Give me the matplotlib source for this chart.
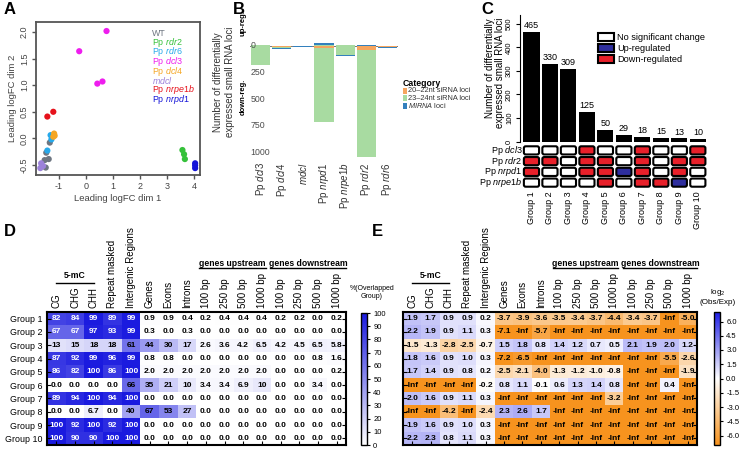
import numpy as np
import matplotlib
matplotlib.use("Agg")
import matplotlib.pyplot as plt
from matplotlib.colors import LinearSegmentedColormap, Normalize
from matplotlib.cm import ScalarMappable
from matplotlib.patches import FancyBboxPatch, Rectangle

plt.rcParams.update({
    "font.family": ["Liberation Sans", "DejaVu Sans"],
    "mathtext.fontset": "custom",
    "mathtext.rm": "Liberation Sans",
    "mathtext.it": "Liberation Sans:italic",
    "mathtext.bf": "Liberation Sans:bold",
    "axes.unicode_minus": False,
})

# ── data ──────────────────────────────────────────────────────────────────────
# A: MDS plot
genotypes = ["WT", "Pp $\\mathit{rdr2}$", "Pp $\\mathit{rdr6}$", "Pp $\\mathit{dcl3}$",
             "Pp $\\mathit{dcl4}$", "$\\mathit{mdcl}$", "Pp $\\mathit{nrpe1b}$",
             "Pp $\\mathit{nrpd1}$"]
geno_colors = ["#6E7681", "#35C13A", "#27A9EA", "#EE1DEE", "#F5A623", "#9C82DA",
               "#E6111B", "#1414D8"]
mds_dim1 = [[-1.34, -1.47, -1.38, -1.53, -1.49],
            [3.57, 3.63, 3.66],
            [-1.31, -1.28, -1.43],
            [0.76, -0.25, 0.42, 0.61],
            [-1.18, -1.16, -1.21],
            [-1.66, -1.69, -1.59],
            [-1.43, -1.21],
            [4.04, 4.04, 4.04]]
mds_dim2 = [[-0.08, -0.27, -0.39, -0.41, -0.55],
            [-0.22, -0.30, -0.39],
            [0.06, -0.02, -0.23],
            [2.02, 1.64, 1.03, 1.07],
            [0.09, 0.05, 0.03],
            [-0.47, -0.56, -0.52],
            [0.41, 0.50],
            [-0.47, -0.51, -0.56]]

# B: differentially expressed loci per mutant
b_mutants = ["Pp $\\mathit{dcl3}$", "Pp $\\mathit{dcl4}$", "$\\mathit{mdcl}$",
             "Pp $\\mathit{nrpd1}$", "Pp $\\mathit{nrpe1b}$", "Pp $\\mathit{rdr2}$",
             "Pp $\\mathit{rdr6}$"]
b_down_2022 = [4, 6, 0, 20, 3, 38, 8]
b_down_2324 = [172, 15, 0, 695, 80, 1005, 5]
b_down_mirna = [3, 3, 8, 4, 10, 3, 3]
b_up_2022 = [0, 0, 0, 3, 0, 0, 0]
b_up_2324 = [5, 0, 0, 10, 5, 4, 0]
b_up_mirna = [2, 0, 0, 12, 0, 2, 0]
b_categories = ["20\u201322nt siRNA loci", "23\u201324nt siRNA loci", "$\\mathit{MIRNA}$ loci"]
b_colors = ["#F6A55E", "#A8DBA1", "#3380BD"]
b_ticks = [0, 250, 500, 750, 1000]

# C: groups of loci
c_groups = ["Group 1", "Group 2", "Group 3", "Group 4", "Group 5",
            "Group 6", "Group 7", "Group 8", "Group 9", "Group 10"]
c_counts = [465, 330, 309, 125, 50, 29, 18, 15, 13, 10]
c_mutants = ["Pp $\\mathit{dcl3}$", "Pp $\\mathit{rdr2}$", "Pp $\\mathit{nrpd1}$",
             "Pp $\\mathit{nrpe1b}$"]
# n = no change, u = up, d = down
c_status = ["nnndnndnnd",
            "ddnddndndd",
            "dnnddudndn",
            "nnnndnddun"]
c_status_colors = {"n": "white", "u": "#2E2E9E", "d": "#E8202A"}
c_legend = ["No significant change", "Up-regulated", "Down-regulated"]

# D / E: genomic features
feat_labels = ["CG", "CHG", "CHH", "Repeat masked", "Intergenic Regions", "Genes",
               "Exons", "Introns", "100 bp", "250 bp", "500 bp", "1000 bp",
               "100 bp", "250 bp", "500 bp", "1000 bp"]
d_values = [
    [82, 84, 99, 89, 99, 0.9, 0.9, 0.4, 0.2, 0.4, 0.4, 0.4, 0.2, 0.2, 0.0, 0.2],
    [67, 67, 97, 93, 99, 0.3, 0.0, 0.3, 0.0, 0.0, 0.0, 0.0, 0.0, 0.0, 0.0, 0.0],
    [13, 15, 18, 18, 61, 44, 30, 17, 2.6, 3.6, 4.2, 6.5, 4.2, 4.5, 6.5, 5.8],
    [87, 92, 99, 96, 99, 0.8, 0.8, 0.0, 0.0, 0.0, 0.0, 0.0, 0.0, 0.0, 0.8, 1.6],
    [86, 82, 100, 86, 100, 2.0, 2.0, 2.0, 2.0, 2.0, 2.0, 2.0, 0.0, 0.0, 0.0, 0.2],
    [0.0, 0.0, 0.0, 0.0, 66, 35, 21, 10, 3.4, 3.4, 6.9, 10, 0.0, 0.0, 3.4, 0.0],
    [89, 94, 100, 94, 100, 0.0, 0.0, 0.0, 0.0, 0.0, 0.0, 0.0, 0.0, 0.0, 0.0, 0.0],
    [0.0, 0.0, 6.7, 0.0, 40, 67, 53, 27, 0.0, 0.0, 0.0, 0.0, 0.0, 0.0, 0.0, 0.0],
    [100, 92, 100, 92, 100, 0.0, 0.0, 0.0, 0.0, 0.0, 0.0, 0.0, 0.0, 0.0, 0.0, 0.0],
    [100, 90, 90, 100, 100, 0.0, 0.0, 0.0, 0.0, 0.0, 0.0, 0.0, 0.0, 0.0, 0.0, 0.0],
]
NI = -np.inf
e_values = [
    [1.9, 1.7, 0.9, 0.9, 0.2, -3.7, -3.9, -3.6, -3.5, -3.4, -3.7, -4.4, -3.4, -3.7, NI, -5.0],
    [2.2, 1.9, 0.9, 1.1, 0.3, -7.1, NI, -5.7, NI, NI, NI, NI, NI, NI, NI, NI],
    [-1.5, -1.3, -2.8, -2.5, -0.7, 1.5, 1.8, 0.8, 1.4, 1.2, 0.7, 0.5, 2.1, 1.9, 2.0, 1.2],
    [1.8, 1.6, 0.9, 1.0, 0.3, -7.2, -6.5, NI, NI, NI, NI, NI, NI, NI, -5.5, -2.6],
    [1.7, 1.4, 0.9, 0.8, 0.2, -2.5, -2.1, -4.0, -1.3, -1.2, -1.0, -0.8, NI, NI, NI, -1.9],
    [NI, NI, NI, NI, -0.2, 0.8, 1.1, -0.1, 0.6, 1.3, 1.4, 0.8, NI, NI, 0.4, NI],
    [2.0, 1.6, 0.9, 1.1, 0.3, NI, NI, NI, NI, NI, NI, -3.2, NI, NI, NI, NI],
    [NI, NI, -4.2, NI, -2.4, 2.3, 2.6, 1.7, NI, NI, NI, NI, NI, NI, NI, NI],
    [1.9, 1.6, 0.9, 1.0, 0.3, NI, NI, NI, NI, NI, NI, NI, NI, NI, NI, NI],
    [2.2, 2.3, 0.8, 1.1, 0.3, NI, NI, NI, NI, NI, NI, NI, NI, NI, NI, NI],
]

# ── layout helpers (pixel positions on a 742x450 canvas) ─────────────────────
W, H = 742, 450
fig = plt.figure(figsize=(W / 100, H / 100), dpi=100)


def px_axes(l, t, r, b, **kw):
    return fig.add_axes([l / W, 1 - b / H, (r - l) / W, (b - t) / H], **kw)


ov = px_axes(0, 0, W, H, zorder=10)
ov.set_xlim(0, W)
ov.set_ylim(H, 0)
ov.axis("off")

for letter, x, y in [("A", 4, 10), ("B", 233, 9), ("C", 481, 10),
                     ("D", 4, 232), ("E", 372, 232)]:
    ov.text(x, y, letter, fontsize=12, fontweight="bold", va="center", ha="left")

# ── A ─────────────────────────────────────────────────────────────────────────
axA = px_axes(36, 22, 200, 175)
for xs, ys, col in zip(mds_dim1, mds_dim2, geno_colors):
    axA.scatter(xs, ys, s=20, color=col, edgecolors="none", zorder=3)
axA.set_xlim(-1.85, 4.22)
axA.set_ylim(-0.69, 2.19)
axA.set_xticks([-1, 0, 1, 2, 3, 4])
axA.set_yticks([-0.5, 0.0, 0.5, 1.0, 1.5, 2.0])
axA.set_yticklabels(["-0.5", "0.0", "0.5", "1.0", "1.5", "2.0"], rotation=90, va="center")
for sp in axA.spines.values():
    sp.set_color("#555555")
    sp.set_linewidth(1.3)
axA.tick_params(colors="#555555", labelcolor="#444444", labelsize=6.5, length=3, width=1, pad=2)
axA.set_xlabel("Leading logFC dim 1", fontsize=6.8, color="#444444", labelpad=2)
axA.set_ylabel("Leading logFC dim 2", fontsize=6.8, color="#444444", labelpad=2)
for i, (lab, col) in enumerate(zip(genotypes, geno_colors)):
    ov.text(152, 33 + i * 9.5, lab, color=col, fontsize=6.4, va="center", ha="left")

# ── B ─────────────────────────────────────────────────────────────────────────
axB = px_axes(250, 36, 398, 160)
xb = np.arange(len(b_mutants))
down_stack = [b_down_2022, b_down_2324, b_down_mirna]
up_stack = [b_up_2022, b_up_2324, b_up_mirna]
base_d = np.zeros(len(xb))
base_u = np.zeros(len(xb))
for vals_d, vals_u, col in zip(down_stack, up_stack, b_colors):
    vd = np.array(vals_d, float)
    vu = np.array(vals_u, float)
    axB.bar(xb, vd, bottom=base_d, width=0.9, color=col, linewidth=0)
    axB.bar(xb, -vu, bottom=-base_u, width=0.9, color=col, linewidth=0)
    base_d += vd
    base_u += vu
axB.axhline(0, color="#777777", lw=0.7, zorder=0)
axB.set_xlim(-0.5, len(xb) - 0.5)
axB.set_ylim(1075, -94)
axB.axis("off")
for t in b_ticks:
    axB.text(0.003, t, str(t), transform=axB.get_yaxis_transform(), ha="left",
             va="center", fontsize=6.3, color="#4D4D4D", zorder=5)
for i, lab in enumerate(b_mutants):
    axB.text(i, -0.02, lab, transform=axB.get_xaxis_transform(),
             rotation=90, ha="center", va="top", fontsize=7, color="#333333")
ov.text(243, 23, "up-reg.", rotation=90, fontweight="bold", fontsize=5.5,
        ha="center", va="center")
ov.text(243, 97, "down-reg.", rotation=90, fontweight="bold", fontsize=5.5,
        ha="center", va="center")
ov.text(224, 82, "Number of differentially\nexpressed small RNA loci", rotation=90,
        fontsize=7, ha="center", va="center", color="#333333")
ov.text(403, 83, "Category", fontweight="bold", fontsize=6.3, ha="left", va="center")
for i, (lab, col) in enumerate(zip(b_categories, b_colors)):
    yc = 90.5 + i * 7.6
    ov.add_patch(Rectangle((402.5, yc - 3), 4.5, 6, color=col, lw=0))
    ov.text(408, yc, lab, fontsize=5.3, ha="left", va="center", color="#333333")

# ── C ─────────────────────────────────────────────────────────────────────────
axC = px_axes(520, 15, 708, 141.5)
xc = np.arange(len(c_groups))
axC.bar(xc, c_counts, width=0.87, color="black")
for x, v in zip(xc, c_counts):
    axC.text(x, v + 8, str(v), ha="center", va="bottom", fontsize=6.5)
axC.set_xlim(-0.62, 9.55)
axC.set_ylim(0, 538)
axC.set_yticks([0, 100, 200, 300, 400, 500])
axC.set_yticklabels(["0", "100", "200", "300", "400", "500"], rotation=90, va="center")
axC.tick_params(axis="y", labelsize=5.5, length=3, pad=2)
axC.set_xticks([])
for s in ["top", "right", "bottom"]:
    axC.spines[s].set_visible(False)
ov.text(495, 18, "Number of differentially\nexpressed small RNA loci", rotation=90,
        fontsize=7, ha="center", va="top", multialignment="right", linespacing=1.05)

axG = px_axes(520, 145, 708, 188)
axG.set_xlim(-0.62, 9.55)
axG.set_ylim(len(c_mutants), 0)
axG.axis("off")
for r, row in enumerate(c_status):
    for c, code in enumerate(row):
        axG.add_patch(FancyBboxPatch((c - 0.41, r + 0.12), 0.82, 0.76,
                                     boxstyle="round,pad=0,rounding_size=0.1",
                                     mutation_aspect=1.7, facecolor=c_status_colors[code],
                                     edgecolor="black", lw=1.5))
    axG.text(-0.5, r + 0.5, c_mutants[r], ha="right", va="center", fontsize=6.5)
for c, lab in enumerate(c_groups):
    axG.text(c, len(c_mutants) + 0.3, lab, rotation=90, ha="center", va="top", fontsize=6.5)
for i, (lab, code) in enumerate(zip(c_legend, "nud")):
    yt = 33 + i * 11.2
    ov.add_patch(Rectangle((598, yt), 16, 8, facecolor=c_status_colors[code],
                           edgecolor="black", lw=1.5))
    ov.text(617, yt + 4, lab, fontsize=6.6, ha="left", va="center")


# ── D / E heatmaps ────────────────────────────────────────────────────────────
def heatmap(ax, vals, cmap, vmin, vmax, fmt, txtcol, rowlabels):
    arr = np.array(vals, float)
    shown = np.where(np.isinf(arr), vmin, arr)
    ax.imshow(shown, cmap=cmap, vmin=vmin, vmax=vmax, aspect="auto",
              interpolation="nearest")
    for i in range(arr.shape[0]):
        for j in range(arr.shape[1]):
            ax.text(j, i, fmt(arr[i, j]), ha="center", va="center", fontsize=6,
                    fontweight="bold", color=txtcol(arr[i, j], j))
    ax.set_xticks(range(arr.shape[1]))
    ax.set_yticks(range(arr.shape[0]))
    ax.set_yticklabels(c_groups if rowlabels else [])
    ax.tick_params(direction="in", length=3, width=0.8, top=False, right=True,
                   labelbottom=False, labelleft=rowlabels, labelsize=6.4, pad=3)
    for sp in ax.spines.values():
        sp.set_linewidth(1.5)
    tr = ax.get_xaxis_transform()
    rows_h = 133.0
    for j, lab in enumerate(feat_labels):
        ax.text(j, 1 + 4 / rows_h, lab, transform=tr, rotation=90, ha="center",
                va="bottom", fontsize=7)
    # group headers
    ax.plot([0, 2], [1 + 29 / rows_h] * 2, transform=tr, color="black", lw=1, clip_on=False)
    ax.text(1, 1 + 36 / rows_h, "5-mC", transform=tr, ha="center", va="center",
            fontsize=6.2, fontweight="bold")
    ax.plot([7.65, 11.2], [1 + 44 / rows_h] * 2, transform=tr, color="black", lw=1,
            clip_on=False)
    ax.text(9.43, 1 + 49 / rows_h, "genes upstream", transform=tr, ha="center",
            va="center", fontsize=6.2, fontweight="bold")
    ax.plot([11.45, 15.5], [1 + 44 / rows_h] * 2, transform=tr, color="black", lw=1,
            clip_on=False)
    ax.text(13.5, 1 + 49 / rows_h, "genes downstream", transform=tr, ha="center",
            va="center", fontsize=6.2, fontweight="bold")


d_cmap = LinearSegmentedColormap.from_list("wb", ["#FFFFFF", "#1A1ADF"])
e_cmap = LinearSegmentedColormap.from_list("ob", ["#F7931E", "#FFFFFF", "#1E1EE6"])

axD = px_axes(47, 312, 346, 445)
heatmap(axD, d_values, d_cmap, 0, 100,
        lambda v: f"{v:.0f}" if v >= 10 else f"{v:.1f}",
        lambda v, j: "white" if (v >= 67 and j < 5) else "black", True)
axE = px_axes(403, 312, 697, 445)
heatmap(axE, e_values, e_cmap, -7, 7,
        lambda v: "-Inf" if np.isinf(v) else f"{v:.1f}",
        lambda v, j: "black", False)

caxD = px_axes(361, 313, 367, 445)
cbD = fig.colorbar(ScalarMappable(Normalize(0, 100), d_cmap), cax=caxD)
cbD.set_ticks(np.arange(0, 101, 10))
cbD.ax.tick_params(labelsize=5.5, length=2.5, pad=2)
cbD.outline.set_linewidth(1)
ov.text(372, 293, "%(Overlapped\nGroup)", fontsize=5, ha="center", va="center")

caxE = px_axes(714, 312, 720, 445)
cbE = fig.colorbar(ScalarMappable(Normalize(-7, 7), e_cmap), cax=caxE)
cbE.set_ticks(np.arange(-6, 6.01, 1.5))
cbE.set_ticklabels([f"{t:.1f}" for t in np.arange(-6, 6.01, 1.5)])
cbE.ax.tick_params(labelsize=5.5, length=2.5, pad=2)
cbE.outline.set_linewidth(1)
ov.text(718, 297, "log$_2$\n(Obs/Exp)", fontsize=5.8, ha="center", va="center")

fig.savefig("out.png", dpi=100)
